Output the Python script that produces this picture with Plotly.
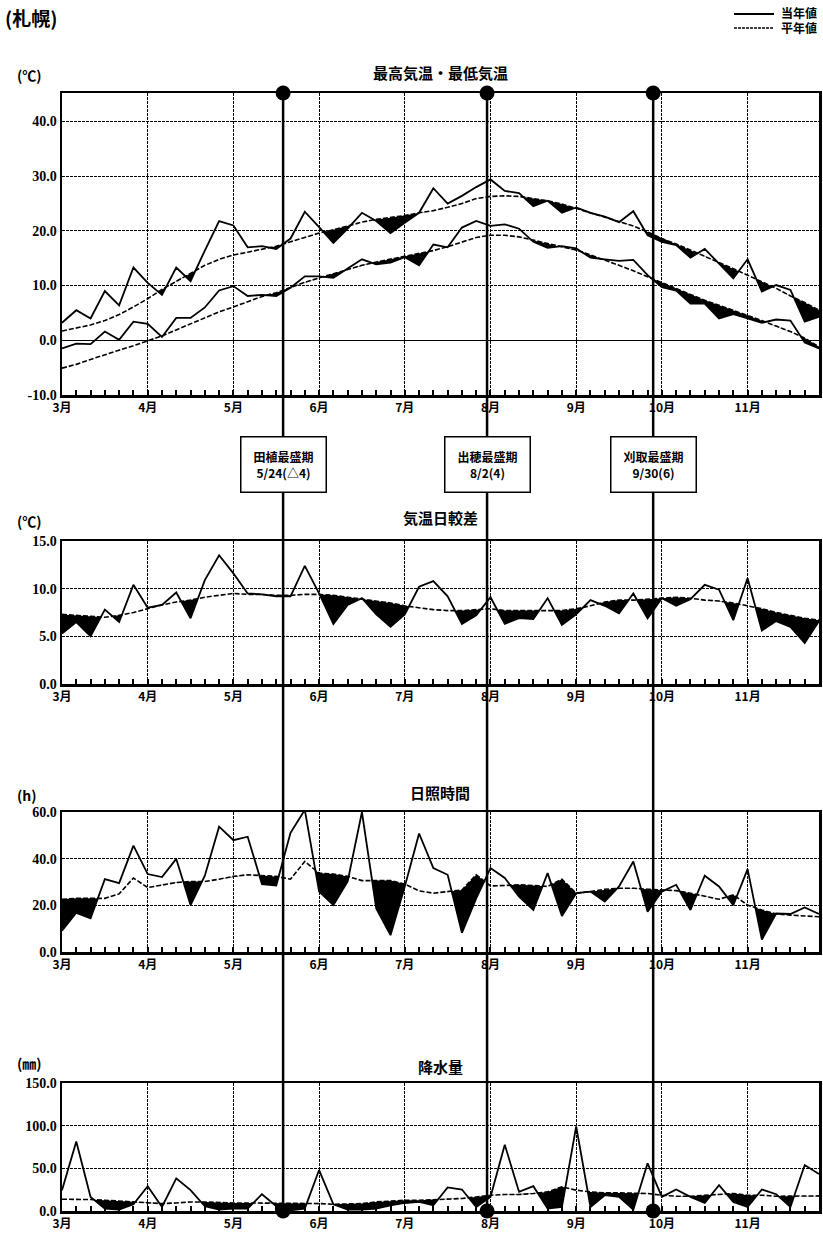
import plotly.graph_objects as go

W, H = 823, 1241

# ---------------- data (pentad index 0..53, Mar 1st pentad .. Nov 5th pentad) ----------------
pentad = list(range(54))
month_ticks = [0, 6, 12, 18, 24, 30, 36, 42, 48]
month_labels = ["3月", "4月", "5月", "6月", "7月", "8月", "9月", "10月", "11月"]

tmax_cur = [3.2, 5.5, 4.0, 9.0, 6.4, 13.3, 10.5, 8.3, 13.3, 10.8, 16.4, 21.8, 21.0, 17.0, 17.2, 16.7,
            18.6, 23.5, 20.7, 17.8, 20.4, 23.3, 21.8, 19.6, 21.5, 23.3, 27.8, 25.0, 26.4, 28.0, 29.4,
            27.3, 26.9, 24.5, 25.5, 23.3, 24.3, 23.3, 22.6, 21.6, 23.6, 19.2, 18.0, 17.4, 15.1, 16.7,
            14.0, 11.3, 14.8, 8.9, 10.1, 9.2, 3.4, 4.3]
tmax_norm = [1.7, 2.2, 2.8, 3.6, 4.7, 6.1, 7.6, 9.3, 10.8, 12.3, 13.7, 14.8, 15.6, 16.1, 16.6, 17.2,
             18.0, 18.8, 19.6, 20.2, 20.9, 21.6, 22.1, 22.4, 22.8, 23.3, 23.7, 24.3, 25.0, 25.9, 26.3,
             26.4, 26.3, 25.9, 25.5, 24.9, 24.1, 23.3, 22.6, 21.8, 20.9, 19.8, 18.6, 17.6, 16.5, 15.4,
             14.2, 13.1, 11.9, 10.7, 9.5, 8.1, 6.9, 5.5]
tmin_cur = [-1.5, -0.6, -0.7, 1.6, 0.1, 3.4, 3.0, 0.6, 4.1, 4.1, 6.0, 9.1, 9.9, 8.1, 8.3, 8.1,
            9.6, 11.7, 11.7, 11.4, 13.1, 14.8, 13.9, 14.2, 15.2, 13.7, 17.5, 17.0, 20.6, 21.8, 20.9,
            21.2, 20.4, 18.0, 16.9, 17.2, 16.8, 15.1, 14.8, 14.5, 14.7, 11.9, 9.7, 9.1, 6.7, 6.7,
            4.0, 4.8, 4.0, 3.2, 3.8, 3.6, -0.4, -1.5]
tmin_norm = [-5.1, -4.4, -3.5, -2.6, -1.8, -1.0, -0.1, 0.8, 1.9, 3.0, 4.1, 5.2, 6.1, 7.1, 8.0, 8.7,
             9.7, 10.6, 11.4, 12.2, 12.9, 13.7, 14.3, 14.8, 15.3, 15.8, 16.4, 17.1, 18.0, 18.8, 19.2,
             19.2, 18.9, 18.3, 17.6, 17.1, 16.5, 15.6, 14.7, 13.7, 12.7, 11.6, 10.5, 9.5, 8.4, 7.3,
             6.4, 5.5, 4.6, 3.6, 2.6, 1.6, 0.4, -1.2]

dtr_cur = [5.3, 6.5, 5.0, 7.8, 6.5, 10.4, 8.0, 8.3, 9.6, 6.9, 10.9, 13.5, 11.6, 9.5, 9.4, 9.2,
           9.2, 12.4, 9.5, 6.3, 8.3, 9.0, 7.3, 6.0, 7.3, 10.2, 10.8, 9.2, 6.3, 7.2, 9.1,
           6.3, 6.9, 6.8, 9.0, 6.2, 7.3, 8.8, 8.2, 7.4, 9.5, 6.9, 9.0, 8.2, 8.9, 10.4,
           9.9, 6.7, 11.1, 5.6, 6.6, 6.0, 4.3, 6.6]
dtr_norm = [7.3, 7.2, 7.1, 7.0, 7.2, 7.5, 7.9, 8.3, 8.6, 8.8, 9.1, 9.3, 9.5, 9.4, 9.4, 9.3,
            9.3, 9.4, 9.4, 9.3, 9.1, 8.9, 8.7, 8.5, 8.2, 8.0, 7.8, 7.7, 7.7, 7.8, 7.9,
            7.7, 7.7, 7.7, 7.7, 7.7, 7.9, 8.2, 8.6, 8.8, 8.8, 8.9, 9.0, 9.1, 9.0, 8.8,
            8.7, 8.5, 8.2, 7.9, 7.5, 7.2, 6.9, 6.7]

sun_cur = [9.1, 16.8, 14.4, 31.2, 29.5, 45.6, 33.4, 32.1, 39.9, 20.1, 32.7, 53.7, 47.9, 49.4, 29.1, 28.5,
           51.1, 60.9, 25.9, 20.1, 30.2, 60.0, 18.7, 7.2, 28.1, 50.8, 36.0, 33.1, 8.2, 23.0, 36.0,
           31.7, 23.7, 18.0, 33.8, 15.4, 25.2, 25.9, 21.6, 28.1, 38.8, 17.3, 25.9, 28.8, 18.0, 32.7,
           28.1, 20.1, 35.5, 5.3, 16.5, 16.3, 19.1, 16.3]
sun_norm = [22.6, 23.0, 23.0, 23.0, 24.9, 31.7, 27.6, 28.8, 29.8, 30.2, 30.2, 31.2, 32.4, 33.1, 32.7, 32.4,
            31.2, 38.8, 33.8, 33.4, 32.4, 30.6, 30.6, 30.6, 29.1, 26.2, 25.2, 25.9, 26.6, 33.1, 28.3,
            28.5, 28.8, 28.5, 28.1, 31.2, 25.2, 25.9, 26.9, 27.3, 27.3, 26.9, 26.6, 26.3, 25.2, 24.0,
            22.6, 24.5, 20.1, 18.0, 16.3, 15.8, 15.4, 15.1]

prec_cur = [24.4, 81.5, 16.5, 2.8, 1.6, 7.9, 29.1, 4.7, 38.2, 24.4, 5.5, 1.6, 2.8, 2.8, 19.7, 5.5,
            0.8, 2.8, 48.0, 7.9, 1.6, 1.6, 2.8, 6.7, 9.4, 10.6, 6.7, 27.6, 25.2, 4.7, 16.5,
            77.6, 22.4, 29.1, 2.8, 4.7, 99.2, 4.7, 18.5, 16.5, 1.6, 55.9, 16.5, 25.2, 16.5, 9.4,
            30.3, 10.6, 4.7, 25.2, 19.7, 4.7, 53.9, 43.3]
prec_norm = [13.8, 13.8, 13.4, 12.6, 11.8, 10.6, 9.4, 8.7, 9.4, 10.6, 10.6, 9.8, 9.4, 9.4, 9.4, 8.7,
             8.7, 8.7, 8.7, 7.9, 7.9, 8.7, 10.6, 11.8, 12.6, 12.6, 13.4, 14.2, 14.6, 16.5, 18.5,
             19.3, 19.3, 20.5, 22.4, 28.3, 24.4, 22.4, 21.3, 21.3, 21.3, 20.5, 18.5, 17.3, 17.3, 18.5,
             19.7, 20.5, 18.5, 18.5, 17.3, 17.3, 17.7, 17.7]

event_x = [15.48, 29.76, 41.39]
event_title = ["田植最盛期", "出穂最盛期", "刈取最盛期"]
event_date = ["5/24(△4)", "8/2(4)", "9/30(6)"]

panel_titles = ["最高気温・最低気温", "気温日較差", "日照時間", "降水量"]
panel_units = ["(℃)", "(℃)", "(h)", "(㎜)"]
y_ticks = [[-10, 0, 10, 20, 30, 40], [0, 5, 10, 15], [0, 20, 40, 60], [0, 50, 100, 150]]
y_ranges = [[-10, 45.2], [0, 15], [0, 60], [0, 150]]

# ---------------- layout geometry (pixels) ----------------
PX_L, PX_R = 62, 819
panel_px = [(93, 395), (541, 684), (812, 952), (1083, 1211)]


def fx(p):
    return p / W


def fy(p):
    return 1 - p / H


JP = "Noto Sans CJK JP"
NUM = "Liberation Serif"


def below_fill(x, cur, norm):
    xs, lo, hi = [], [], []
    for k in range(len(x)):
        if k > 0:
            d0 = cur[k - 1] - norm[k - 1]
            d1 = cur[k] - norm[k]
            if d0 * d1 < 0:
                t = d0 / (d0 - d1)
                xc = x[k - 1] + t * (x[k] - x[k - 1])
                yc = norm[k - 1] + t * (norm[k] - norm[k - 1])
                xs.append(xc); lo.append(yc); hi.append(yc)
        xs.append(x[k]); hi.append(norm[k]); lo.append(min(cur[k], norm[k]))
    return xs, lo, hi


fig = go.Figure()

series = [
    (1, [(tmax_cur, tmax_norm), (tmin_cur, tmin_norm)]),
    (2, [(dtr_cur, dtr_norm)]),
    (3, [(sun_cur, sun_norm)]),
    (4, [(prec_cur, prec_norm)]),
]

for n, pairs in series:
    xa = "x" if n == 1 else f"x{n}"
    ya = "y" if n == 1 else f"y{n}"
    for cur, norm in pairs:
        xs, lo, hi = below_fill(pentad, cur, norm)
        fig.add_trace(go.Scatter(x=xs, y=hi, mode="lines", line=dict(width=0, color="black"),
                                 xaxis=xa, yaxis=ya, showlegend=False, hoverinfo="skip"))
        fig.add_trace(go.Scatter(x=xs, y=lo, mode="lines", line=dict(width=0, color="black"),
                                 fill="tonexty", fillcolor="black",
                                 xaxis=xa, yaxis=ya, showlegend=False, hoverinfo="skip"))
    for cur, norm in pairs:
        fig.add_trace(go.Scatter(x=pentad, y=norm, mode="lines",
                                 line=dict(width=1.6, color="black", dash="5px,2px"),
                                 xaxis=xa, yaxis=ya, showlegend=False))
        fig.add_trace(go.Scatter(x=pentad, y=cur, mode="lines",
                                 line=dict(width=1.8, color="black"),
                                 xaxis=xa, yaxis=ya, showlegend=False))

# event circles (top of panel 1, bottom of panel 4)
fig.add_trace(go.Scatter(x=event_x, y=[y_ranges[0][1]] * 3, mode="markers",
                         marker=dict(size=15, color="black"), cliponaxis=False,
                         xaxis="x", yaxis="y", showlegend=False))
fig.add_trace(go.Scatter(x=event_x, y=[y_ranges[3][0]] * 3, mode="markers",
                         marker=dict(size=15, color="black"), cliponaxis=False,
                         xaxis="x4", yaxis="y4", showlegend=False))

layout = dict(
    width=W, height=H, margin=dict(l=0, r=0, t=0, b=0, autoexpand=False),
    paper_bgcolor="white", plot_bgcolor="white", showlegend=False,
    font=dict(family=JP, color="black"),
)

for n in range(1, 5):
    top, bot = panel_px[n - 1]
    xk = "xaxis" if n == 1 else f"xaxis{n}"
    yk = "yaxis" if n == 1 else f"yaxis{n}"
    ya = "y" if n == 1 else f"y{n}"
    xa = "x" if n == 1 else f"x{n}"
    layout[xk] = dict(
        domain=[fx(PX_L), fx(PX_R)], anchor=ya, range=[0, 53], automargin=False,
        tickvals=month_ticks, ticktext=month_labels,
        tickfont=dict(family=JP, size=12, weight="bold"),
        ticks="inside", ticklen=5, tickwidth=2, tickcolor="black",
        minor=dict(dtick=1, tick0=0, ticks="inside", ticklen=5, tickwidth=2, tickcolor="black",
                   showgrid=False),
        showgrid=True, gridcolor="black", gridwidth=1, griddash="3px,1px",
        showline=True, linecolor="black", linewidth=2.5, mirror=True,
        zeroline=False, fixedrange=True,
    )
    layout[yk] = dict(
        domain=[fy(bot), fy(top)], anchor=xa, range=y_ranges[n - 1], automargin=False,
        tickvals=y_ticks[n - 1], ticktext=[f"{v:.1f}" for v in y_ticks[n - 1]],
        tickfont=dict(family=NUM, size=14, weight="bold"),
        ticks="", showgrid=True, gridcolor="black", gridwidth=1, griddash="3px,1px",
        showline=True, linecolor="black", linewidth=2.5, mirror=True,
        zeroline=(n == 1), zerolinecolor="black", zerolinewidth=1.5, fixedrange=True,
    )

shapes = []
for ex in event_x:
    shapes.append(dict(type="line", xref="x", yref="paper", x0=ex, x1=ex,
                       y0=fy(1214), y1=fy(93), line=dict(color="black", width=2.5)))
# legend sample lines
shapes.append(dict(type="line", xref="paper", yref="paper", x0=fx(734), x1=fx(774),
                   y0=fy(14), y1=fy(14), line=dict(color="black", width=2)))
shapes.append(dict(type="line", xref="paper", yref="paper", x0=fx(734), x1=fx(774),
                   y0=fy(28), y1=fy(28), line=dict(color="black", width=1.5, dash="3px,1px")))
layout["shapes"] = shapes

annotations = []
annotations.append(dict(text="<b>(札幌)</b>", x=fx(3), y=fy(17), xref="paper", yref="paper",
                        xanchor="left", yanchor="middle", showarrow=False,
                        font=dict(family=JP, size=19)))
annotations.append(dict(text="<b>当年値</b>", x=fx(779), y=fy(12), xref="paper", yref="paper",
                        xanchor="left", yanchor="middle", showarrow=False,
                        font=dict(family=JP, size=12)))
annotations.append(dict(text="<b>平年値</b>", x=fx(779), y=fy(28), xref="paper", yref="paper",
                        xanchor="left", yanchor="middle", showarrow=False,
                        font=dict(family=JP, size=12)))

title_px = [72, 517, 792, 1066]
unit_px = [75, 521, 795, 1063]
for n in range(4):
    annotations.append(dict(text=f"<b>{panel_titles[n]}</b>", x=fx(440), y=fy(title_px[n]),
                            xref="paper", yref="paper", xanchor="center", yanchor="middle",
                            showarrow=False, font=dict(family=JP, size=15)))
    annotations.append(dict(text=f"<b>{panel_units[n]}</b>", x=fx(15), y=fy(unit_px[n]),
                            xref="paper", yref="paper", xanchor="left", yanchor="middle",
                            showarrow=False, font=dict(family=JP, size=14)))

for ex, t1, t2 in zip(event_x, event_title, event_date):
    annotations.append(dict(text=f"<b>{t1}</b><br><b>{t2}</b>", x=ex, y=fy(465), xref="x",
                            yref="paper", xanchor="center", yanchor="middle", showarrow=False,
                            font=dict(family=JP, size=12), bgcolor="white", bordercolor="black",
                            borderwidth=1.5, borderpad=4, width=76, height=46, align="center"))
layout["annotations"] = annotations

fig.update_layout(**layout)
fig.write_html(
    "out.html",
    config={"displayModeBar": False, "staticPlot": True},
    post_script="document.documentElement.style.margin='0';document.body.style.margin='0';"
                "document.body.style.padding='0';document.documentElement.style.overflow='hidden';"
                "document.body.style.overflow='hidden';",
)
